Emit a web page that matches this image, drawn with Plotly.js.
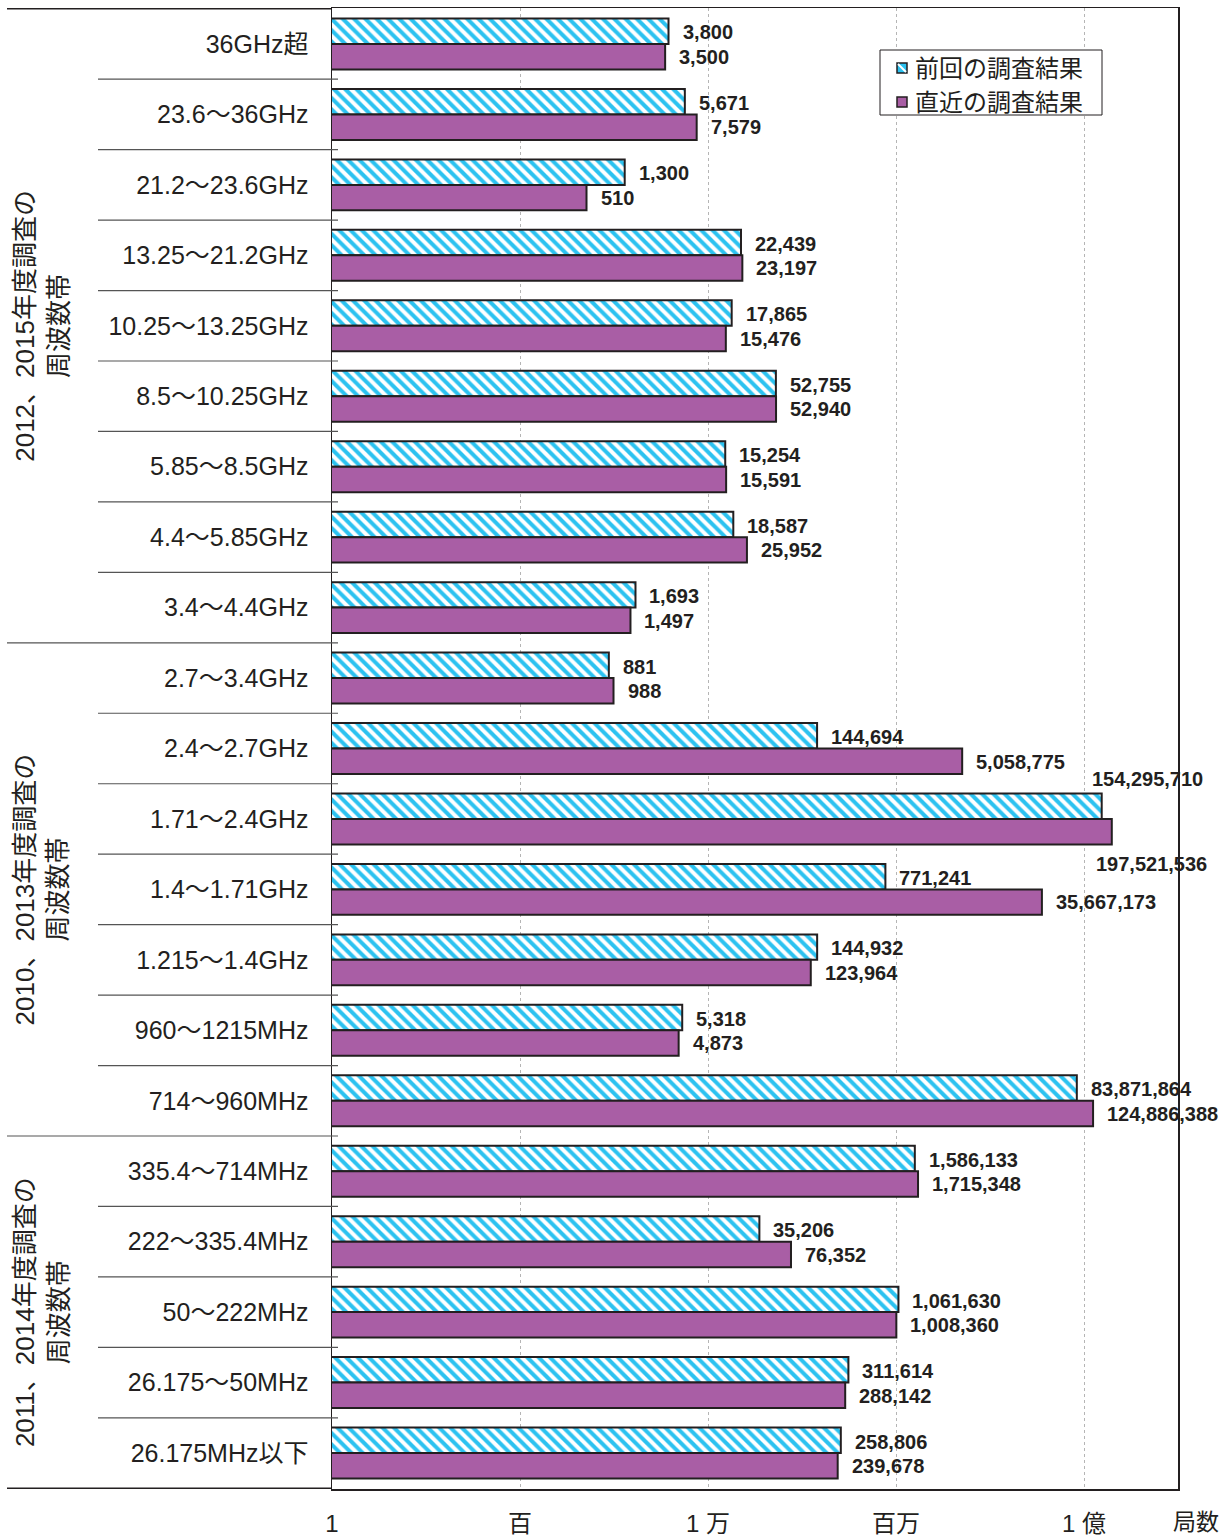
<!DOCTYPE html>
<html>
<head>
<meta charset="utf-8">
<script src="https://cdn.plot.ly/plotly-3.0.1.min.js"></script>
<style>html,body{margin:0;padding:0;background:#fff;}</style>
</head>
<body>
<div id="chart" style="width:1228px;height:1538px;"></div>
<script>
const categories = [
  '36GHz超', '23.6～36GHz', '21.2～23.6GHz', '13.25～21.2GHz', '10.25～13.25GHz',
  '8.5～10.25GHz', '5.85～8.5GHz', '4.4～5.85GHz', '3.4～4.4GHz',
  '2.7～3.4GHz', '2.4～2.7GHz', '1.71～2.4GHz', '1.4～1.71GHz', '1.215～1.4GHz',
  '960～1215MHz', '714～960MHz',
  '335.4～714MHz', '222～335.4MHz', '50～222MHz', '26.175～50MHz', '26.175MHz以下'
];
const prevValues = [
  3800, 5671, 1300, 22439, 17865, 52755, 15254, 18587, 1693,
  881, 144694, 154295710, 771241, 144932, 5318, 83871864,
  1586133, 35206, 1061630, 311614, 258806
];
const recentValues = [
  3500, 7579, 510, 23197, 15476, 52940, 15591, 25952, 1497,
  988, 5058775, 197521536, 35667173, 123964, 4873, 124886388,
  1715348, 76352, 1008360, 288142, 239678
];
const seriesNames = ['前回の調査結果', '直近の調査結果'];
const groupLabels = ['2012、2015年度調査の<br>周波数帯', '2010、2013年度調査の<br>周波数帯', '2011、2014年度調査の<br>周波数帯'];
const groupSizes = [9, 7, 5];
const tickVals = [1, 100, 1e4, 1e6, 1e8];
const tickText = ['1', '百', '1 万', '百万', '1 億'];
const unitLabel = '局数';

const FONT = '"Liberation Sans", Arial, "Noto Sans CJK JP", sans-serif';
const JFONT = '"Noto Sans CJK JP", "Liberation Sans", sans-serif';
const INK = '#231f20';
const CYAN = '#2cc2f0';
const PURPLE = '#a95ea5';
const W = 1228, H = 1538;
const M = {l: 332, r: 50, t: 8, b: 49};
const plotW = W - M.l - M.r;
const plotH = H - M.t - M.b;
const xMaxLog = 9;
const pxPerDecade = plotW / xMaxLog;
const px = p => (p - M.l) / plotW;          // pixel x -> paper x
const py = p => 1 - (p - M.t) / plotH;      // pixel y -> paper y

const traces = [
  {
    type: 'bar', orientation: 'h', name: seriesNames[0],
    y: categories, x: prevValues,
    marker: {
      color: '#ffffff',
      pattern: {shape: '\\', fgcolor: CYAN, bgcolor: '#ffffff', size: 8, solidity: 0.5, fillmode: 'replace'},
      line: {color: INK, width: 2}
    },
    hoverinfo: 'x+y'
  },
  {
    type: 'bar', orientation: 'h', name: seriesNames[1],
    y: categories, x: recentValues,
    marker: {color: PURPLE, line: {color: INK, width: 2}},
    hoverinfo: 'x+y'
  }
];

const annotations = [];
const shapes = [];
const fmt = v => v.toLocaleString('en-US');
[prevValues, recentValues].forEach((vals, s) => {
  vals.forEach((v, i) => {
    const lx = Math.log10(v);
    const endPx = M.l + lx * pxPerDecade;
    const txt = fmt(v);
    const estW = txt.length * 10;
    const overflow = endPx + 14 + estW > W - 4;
    const a = {
      x: lx, y: categories[i], xref: 'x', yref: 'y',
      text: '<b>' + txt + '</b>', showarrow: false,
      xanchor: 'left', yanchor: 'middle',
      font: {family: FONT, size: 20, color: INK}
    };
    if (!overflow) {
      a.xshift = 12;
      a.yshift = s === 0 ? 11.5 : -13;
    } else {
      a.xshift = s === 0 ? -12 : -18;
      a.yshift = s === 0 ? 40 : -45;
    }
    annotations.push(a);
  });
});

// group labels
let start = 0;
groupSizes.forEach((n, g) => {
  annotations.push({
    x: px(42), xref: 'paper', y: start + (n - 1) / 2, yref: 'y',
    text: groupLabels[g], showarrow: false, textangle: -90,
    xanchor: 'center', yanchor: 'middle', align: 'center',
    font: {family: FONT, size: 26, color: INK}
  });
  start += n;
});
annotations.push({
  x: px(1196), xref: 'paper', y: py(1520), yref: 'paper',
  text: unitLabel, showarrow: false, xanchor: 'center', yanchor: 'middle',
  font: {family: JFONT, size: 23, color: INK}
});

// custom legend box
shapes.push({type: 'rect', xref: 'paper', yref: 'paper',
  x0: px(880), x1: px(1102), y0: py(50), y1: py(115),
  line: {color: INK, width: 1}, fillcolor: '#ffffff', layer: 'above'});
const legendRowsY = [68, 102];
seriesNames.forEach((nm, s) => {
  const cy = legendRowsY[s];
  shapes.push({type: 'rect', xref: 'paper', yref: 'paper',
    x0: px(897), x1: px(907), y0: py(cy - 5), y1: py(cy + 5),
    line: {color: INK, width: 1.5}, fillcolor: s === 0 ? CYAN : PURPLE, layer: 'above'});
  if (s === 0) {
    shapes.push({type: 'line', xref: 'paper', yref: 'paper',
      x0: px(898), x1: px(906), y0: py(cy - 4), y1: py(cy + 4),
      line: {color: '#ffffff', width: 2}, layer: 'above'});
  }
  annotations.push({
    x: px(913), xref: 'paper', y: py(cy - 2), yref: 'paper',
    text: nm, showarrow: false, xanchor: 'left', yanchor: 'middle',
    font: {family: JFONT, size: 24, color: INK}
  });
});

// separator lines in the label area
const groupBounds = new Set();
let acc = 0;
groupSizes.forEach(n => { acc += n; groupBounds.add(acc); });
for (let k = 0; k <= categories.length; k++) {
  const isOuter = (k === 0 || k === categories.length);
  const isGroup = isOuter || groupBounds.has(k);
  shapes.push({
    type: 'line', xref: 'paper', yref: 'y',
    x0: isGroup ? px(7) : px(98), x1: isOuter ? 0 : px(338),
    y0: k - 0.5, y1: k - 0.5,
    line: {color: isOuter ? INK : '#555555', width: isOuter ? 1.5 : 1.2}
  });
}

const layout = {
  width: W, height: H,
  margin: M,
  paper_bgcolor: '#ffffff', plot_bgcolor: '#ffffff',
  barmode: 'group', bargap: 0.277, bargroupgap: 0,
  showlegend: false,
  xaxis: {
    type: 'log', range: [0, xMaxLog],
    tickvals: tickVals, ticktext: tickText,
    tickfont: {family: FONT, size: 24, color: INK},
    ticks: '', ticklabelstandoff: 13,
    showgrid: true, gridcolor: '#b5b5b5', griddash: 'dot', gridwidth: 1,
    showline: true, linecolor: INK, linewidth: 1.5, mirror: true,
    zeroline: false, fixedrange: true
  },
  yaxis: {
    type: 'category', categoryarray: categories, categoryorder: 'array',
    autorange: 'reversed',
    tickfont: {family: FONT, size: 25, color: INK},
    ticks: '', ticklabelstandoff: 17,
    showgrid: false, showline: true, linecolor: INK, linewidth: 1.5, mirror: true,
    fixedrange: true
  },
  annotations: annotations,
  shapes: shapes,
  font: {family: FONT, color: INK}
};

Plotly.newPlot('chart', traces, layout, {displayModeBar: false, staticPlot: true});
</script>
</body>
</html>
